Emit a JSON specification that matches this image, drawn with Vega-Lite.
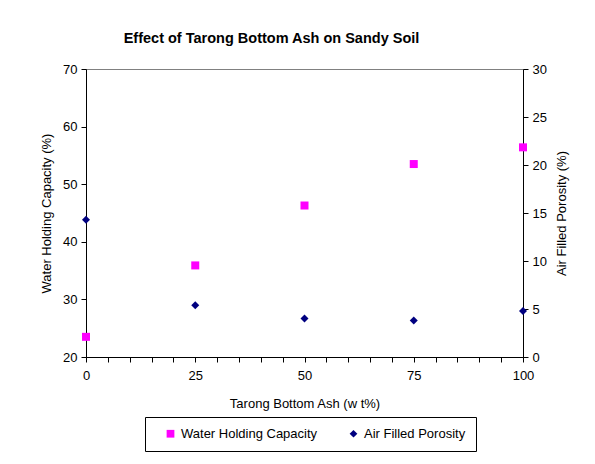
{
  "$schema": "https://vega.github.io/schema/vega-lite/v6.json",
  "width": 437,
  "height": 288,
  "autosize": {"type": "none"},
  "padding": {"left": 86, "top": 69, "right": 72, "bottom": 107},
  "background": "white",
  "title": {
    "text": "Effect of Tarong Bottom Ash on Sandy Soil",
    "font": "Liberation Sans",
    "fontSize": 14.5,
    "fontWeight": "bold",
    "color": "black",
    "anchor": "middle",
    "dx": -33,
    "offset": 17
  },
  "config": {
    "view": {"stroke": "#808080", "strokeWidth": 1},
    "axis": {
      "labelFont": "Liberation Sans",
      "titleFont": "Liberation Sans",
      "labelFontSize": 13,
      "titleFontSize": 13,
      "titleFontWeight": "normal",
      "labelColor": "black",
      "titleColor": "black",
      "domainColor": "black",
      "tickColor": "black",
      "grid": false,
      "tickSize": 5
    },
    "legend": {
      "labelFont": "Liberation Sans",
      "labelFontSize": 13,
      "labelColor": "black"
    }
  },
  "data": {
    "values": [
      {"ash": 0, "value": 23.5, "series": "Water Holding Capacity"},
      {"ash": 25, "value": 35.9, "series": "Water Holding Capacity"},
      {"ash": 50, "value": 46.3, "series": "Water Holding Capacity"},
      {"ash": 75, "value": 53.5, "series": "Water Holding Capacity"},
      {"ash": 100, "value": 56.4, "series": "Water Holding Capacity"},
      {"ash": 0, "value": 14.3, "series": "Air Filled Porosity"},
      {"ash": 25, "value": 5.4, "series": "Air Filled Porosity"},
      {"ash": 50, "value": 4.0, "series": "Air Filled Porosity"},
      {"ash": 75, "value": 3.8, "series": "Air Filled Porosity"},
      {"ash": 100, "value": 4.8, "series": "Air Filled Porosity"}
    ]
  },
  "encoding": {
    "x": {
      "field": "ash",
      "type": "quantitative",
      "scale": {"domain": [0, 100], "nice": false},
      "axis": {
        "title": "Tarong Bottom Ash (w t%)",
        "values": [0, 5, 10, 15, 20, 25, 30, 35, 40, 45, 50, 55, 60, 65, 70, 75, 80, 85, 90, 95, 100],
        "labelExpr": "datum.value % 25 === 0 ? datum.label : ''",
        "labelPadding": 7,
        "titlePadding": 15,
        "labelFlush": false
      }
    },
    "color": {
      "field": "series",
      "type": "nominal",
      "scale": {
        "domain": ["Water Holding Capacity", "Air Filled Porosity"],
        "range": ["#FF00FF", "#000080"]
      },
      "legend": {
        "title": null,
        "orient": "none",
        "legendX": 59,
        "legendY": 348,
        "direction": "horizontal",
        "strokeColor": "black",
        "fillColor": "white",
        "padding": 10,
        "symbolOffset": 9,
        "columnPadding": 20,
        "labelOffset": 4,
        "symbolSize": 60
      }
    },
    "shape": {
      "field": "series",
      "type": "nominal",
      "scale": {
        "domain": ["Water Holding Capacity", "Air Filled Porosity"],
        "range": ["square", "diamond"]
      },
      "legend": null
    }
  },
  "layer": [
    {
      "transform": [{"filter": "datum.series === 'Water Holding Capacity'"}],
      "mark": {"type": "point", "filled": true, "size": 64, "opacity": 1},
      "encoding": {
        "y": {
          "field": "value",
          "type": "quantitative",
          "scale": {"domain": [20, 70], "nice": false, "zero": false},
          "axis": {
            "title": "Water Holding Capacity (%)",
            "orient": "left",
            "values": [20, 30, 40, 50, 60, 70],
            "labelPadding": 4,
            "titlePadding": 9
          }
        }
      }
    },
    {
      "transform": [{"filter": "datum.series === 'Air Filled Porosity'"}],
      "mark": {"type": "point", "filled": true, "size": 64, "opacity": 1},
      "encoding": {
        "y": {
          "field": "value",
          "type": "quantitative",
          "scale": {"domain": [0, 30], "nice": false},
          "axis": {
            "title": "Air Filled Porosity (%)",
            "orient": "right",
            "values": [0, 5, 10, 15, 20, 25, 30],
            "labelPadding": 4,
            "titlePadding": 9,
            "titleAngle": -90,
            "titleBaseline": "top"
          }
        }
      }
    }
  ],
  "resolve": {"scale": {"y": "independent"}}
}
